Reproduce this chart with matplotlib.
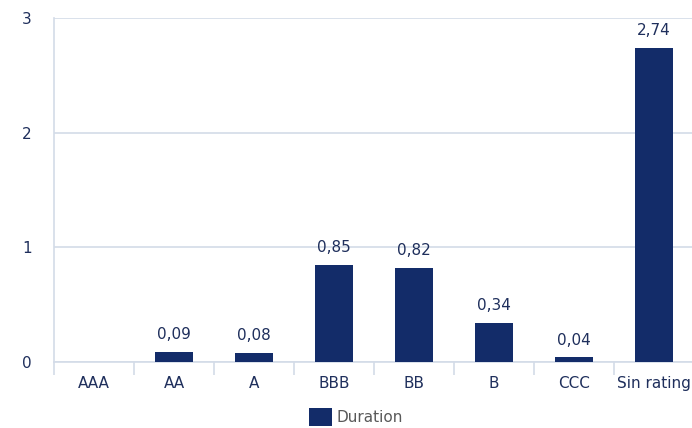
import matplotlib.pyplot as plt
import numpy as np

ratings = ['AAA', 'AA', 'A', 'BBB', 'BB', 'B', 'CCC', 'Sin rating']
duration = [0.0, 0.09, 0.08, 0.85, 0.82, 0.34, 0.04, 2.74]
yticks = [0, 1, 2, 3]

navy = '#132c69'
text_c = '#1f2f5c'
grid_c = '#d3dbe8'

plt.rcParams['font.family'] = ['DejaVu Sans']

fig = plt.figure(figsize=(6.92, 4.28), dpi=100)
ax = fig.add_axes([54 / 692, 66 / 428, 640 / 692, 344 / 428])

x = np.arange(len(ratings))
bars = ax.bar(x, duration, width=0.47, color=navy, label='Duration', zorder=3)

# value labels, skipping empty bars
for xi, v in zip(x, duration):
    if v > 0:
        ax.annotate(f'{v:.2f}'.replace('.', ','), (xi, v), xytext=(0, 7),
                    textcoords='offset points', ha='center', va='bottom',
                    fontsize=11, color=text_c)

ax.set_xlim(-0.5, len(ratings) - 0.5)
ax.set_ylim(0, 3)
ax.set_yticks(yticks)
ax.set_yticklabels([str(t) for t in yticks])
ax.yaxis.grid(True, color=grid_c, linewidth=1.2, zorder=0)
ax.tick_params(axis='y', length=0, pad=16, labelsize=11, labelcolor=text_c)

# labels centred under bars, separator ticks between categories
ax.set_xticks(x)
ax.set_xticklabels(ratings)
ax.tick_params(axis='x', which='major', length=0, pad=10, labelsize=11, labelcolor=text_c)
ax.set_xticks(np.arange(-0.5, len(ratings)), minor=True)
ax.tick_params(axis='x', which='minor', length=9.5, width=1.2, color=grid_c)

for side in ['top', 'right']:
    ax.spines[side].set_visible(False)
for side in ['left', 'bottom']:
    ax.spines[side].set_color(grid_c)
    ax.spines[side].set_linewidth(1.2)

fig.legend(handles=[bars], labels=['Duration'], loc='upper center',
           bbox_to_anchor=(0.515, 0.078), frameon=False, fontsize=11,
           labelcolor='#595959', handlelength=1.5, handleheight=1.4,
           handletextpad=0.3)

fig.savefig('out.png', dpi=100)
